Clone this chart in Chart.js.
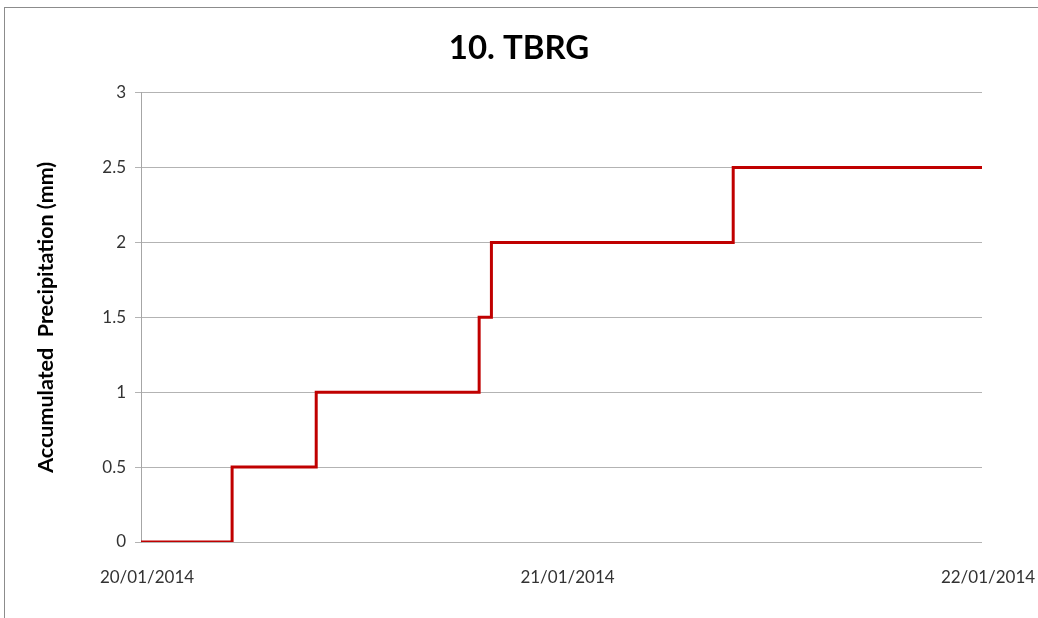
<!DOCTYPE html>
<html>
<head>
<meta charset="utf-8">
<script src="https://cdn.jsdelivr.net/npm/chart.js@4/dist/chart.umd.min.js"></script>
<style>
  html, body { margin: 0; padding: 0; background: #fff; }
  #wrap { width: 1038px; height: 618px; }
</style>
</head>
<body>
<div id="wrap"><canvas id="tbrgChart" width="1038" height="618"></canvas></div>
<script>
// hours since 20/01/2014 00:00 and accumulated rain (mm)
const stepHours = [0, 5.2, 10.0, 19.3, 20.0, 33.8, 48];
const accumMm = [0, 0.5, 1.0, 1.5, 2.0, 2.5, 2.5];
const dateLabels = ['20/01/2014', '21/01/2014', '22/01/2014'];

const frame = {
    id: 'frame',
    beforeDraw(chart) {
        const c = chart.ctx;
        c.save();
        c.fillStyle = '#fff';
        c.fillRect(0, 0, chart.width, chart.height);
        c.strokeStyle = '#8c8c8c';
        c.lineWidth = 1;
        c.strokeRect(4.5, 7.5, chart.width + 10, chart.height + 10);
        c.restore();
    }
};

const points = stepHours.map((h, i) => ({ x: h, y: accumMm[i] }));

new Chart(document.getElementById('tbrgChart').getContext('2d'), {
    type: 'line',
    data: {
        datasets: [{
            label: 'TBRG',
            data: points,
            stepped: 'before',
            borderColor: '#c00000',
            borderWidth: 3,
            pointRadius: 0,
            fill: false
        }]
    },
    options: {
        responsive: false,
        animation: false,
        layout: { padding: { left: 0, right: 0, top: 29, bottom: 0 } },
        plugins: {
            legend: { display: false },
            tooltip: { enabled: false },
            title: {
                display: true,
                text: '10. TBRG',
                color: '#000',
                font: { family: 'Lato', size: 33, weight: 'bold' },
                padding: { top: 0, bottom: 24 }
            }
        },
        scales: {
            x: {
                type: 'linear',
                min: 0,
                max: 48,
                afterFit: s => { s.height = 76; s.paddingLeft = 0; s.paddingRight = 56; },
                afterBuildTicks: s => { s.ticks = [0, 24, 48].map(v => ({ value: v })); },
                grid: { display: false, drawTicks: false },
                border: { display: false },
                ticks: {
                    padding: 25,
                    labelOffset: 6,
                    maxRotation: 0,
                    color: '#333',
                    font: { family: 'Lato', size: 17 },
                    callback: v => dateLabels[v / 24]
                }
            },
            y: {
                min: 0,
                max: 3,
                afterFit: s => { s.width = 141; },
                grid: { color: '#b3b3b3', lineWidth: 1, tickLength: 6 },
                border: { display: true, color: '#a6a6a6' },
                ticks: {
                    stepSize: 0.5,
                    padding: 9,
                    color: '#333',
                    font: { family: 'Lato', size: 17 },
                    callback: v => String(v)
                },
                title: {
                    display: true,
                    text: 'Accumulated  Precipitation (mm)',
                    color: '#000',
                    font: { family: 'Lato', size: 21.5, weight: 'bold' },
                    padding: { top: 33, bottom: 0 }
                }
            }
        }
    },
    plugins: [frame]
});
</script>
</body>
</html>
